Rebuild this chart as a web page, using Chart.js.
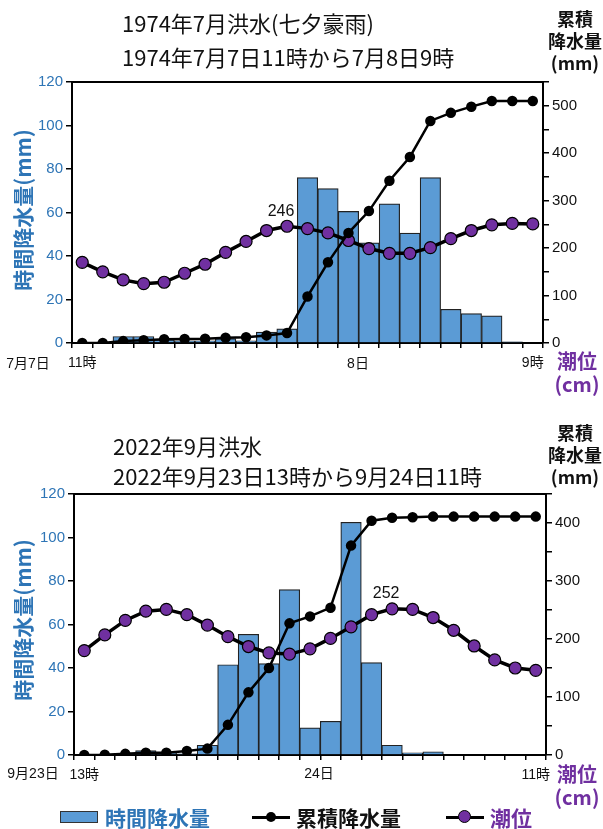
<!DOCTYPE html>
<html>
<head>
<meta charset="utf-8">
<script src="https://cdn.jsdelivr.net/npm/chart.js@4/dist/chart.umd.min.js"></script>
<style>
  body { margin: 0; width: 603px; height: 829px; background: #fff; position: relative; overflow: hidden;
         font-family: "Noto Sans CJK JP", sans-serif; }
  .box { position: absolute; left: 0; width: 603px; }
  .t { position: absolute; white-space: nowrap; line-height: 1; }
  .title { font-size: 22px; color: #111; line-height: 34px; }
  .rtitle { font-size: 18px; font-weight: bold; color: #111; text-align: center; line-height: 22px; width: 70px; }
  .ltitle { font-size: 21px; font-weight: bold; color: #2e75b6; transform: translate(-50%, -50%) rotate(-90deg); }
  .tide { font-size: 20px; font-weight: bold; color: #7030a0; text-align: center; line-height: 23px; width: 60px; }
  .xl { font-size: 14px; color: #111; font-family: "Liberation Sans", "Noto Sans CJK JP", sans-serif; transform: translate(-50%, -50%); }
  .leg { position: absolute; top: 805px; left: 0; width: 603px; height: 24px; font-size: 21px; font-weight: bold; }
  .leg span { position: absolute; top: 0; line-height: 24px; }
</style>
</head>
<body>

<div class="box" style="top:0;height:400px"><canvas id="c1"></canvas></div>
<div class="box" style="top:410px;height:380px"><canvas id="c2"></canvas></div>

<div class="t title" style="left:122px;top:5px">1974年7月洪水(七夕豪雨)<br>1974年7月7日11時から7月8日9時</div>
<div class="t rtitle" style="left:540px;top:7px">累積<br>降水量<br>(mm)</div>
<div class="t ltitle" style="left:22px;top:210px">時間降水量(mm)</div>
<div class="t xl" style="left:28px;top:363px">7月7日</div>
<div class="t xl" style="left:358px;top:363px">8日</div>
<div class="t tide" style="left:547px;top:349px">潮位<br>(cm)</div>

<div class="t title" style="left:113px;top:430px;line-height:30px">2022年9月洪水<br>2022年9月23日13時から9月24日11時</div>
<div class="t rtitle" style="left:540px;top:421px">累積<br>降水量<br>(mm)</div>
<div class="t ltitle" style="left:22px;top:620px">時間降水量(mm)</div>
<div class="t xl" style="left:33px;top:773px">9月23日</div>
<div class="t xl" style="left:319px;top:773px">24日</div>
<div class="t tide" style="left:547px;top:762px">潮位<br>(cm)</div>

<div class="leg">
  <span style="left:60px;top:6px;width:38px;height:12px;background:#5b9bd5;border:1px solid #333;box-sizing:border-box"></span>
  <span style="left:105px;color:#2e75b6">時間降水量</span>
  <span style="left:252px;top:11px;width:38px;height:3px;background:#000"></span>
  <span style="left:266px;top:7px;width:10px;height:10px;border-radius:50%;background:#000"></span>
  <span style="left:296px;color:#111">累積降水量</span>
  <span style="left:446px;top:11px;width:38px;height:3px;background:#000"></span>
  <span style="left:458px;top:5px;width:13px;height:13px;border-radius:50%;background:#7030a0;border:1px solid #000;box-sizing:border-box"></span>
  <span style="left:490px;color:#7030a0">潮位</span>
</div>

<script>
// ---- 1974年7月洪水 (7/7 11時 〜 7/8 9時)
const hours74  = ['11','12','13','14','15','16','17','18','19','20','21','22','23',
                  '0','1','2','3','4','5','6','7','8','9'];
const hourly74 = [0, 0, 3, 3, 1.5, 1, 1, 2, 1, 5, 6.5, 76, 71, 60.5, 46, 64, 50.5, 76, 15.5, 13.5, 12.5, 0.5, 0];
const cumul74  = [0, 0, 4, 6, 8, 8.5, 9, 11, 12, 16, 21, 98, 170, 232, 278, 342, 392, 468, 485, 498, 510, 510, 510];
const tide74   = [170, 150, 133, 125, 128, 147, 166, 191, 214, 237, 246, 241, 232, 216, 199, 189, 189, 201, 220, 237, 249, 252, 251];
const xTicks74 = { 0: '11時', 22: '9時' };

// ---- 2022年9月洪水 (9/23 13時 〜 9/24 11時)
const hours22  = ['13','14','15','16','17','18','19','20','21','22','23',
                  '0','1','2','3','4','5','6','7','8','9','10','11'];
const hourly22 = [0, 0, 0.5, 2, 1, 0.5, 4.5, 41.5, 55.5, 42, 76, 12.5, 15.5, 107, 42.5, 4.5, 1, 1.5, 0, 0, 0, 0, 0];
const cumul22  = [0, 0.5, 2, 4, 4, 7, 11, 52, 108, 150, 227, 239, 254, 361, 404, 409, 410, 411, 411, 411, 411, 411, 411];
const tide22   = [180, 207, 232, 248, 251, 242, 224, 204, 187, 176, 174, 183, 201, 221, 242, 252, 251, 237, 215, 188, 164, 150, 146];
const xTicks22 = { 0: '13時', 22: '11時' };

const TICK_FONT = '"Liberation Sans", "Noto Sans CJK JP", sans-serif';

// frame line on top of the plot + peak tide label
const framePlugin = {
  id: 'frame',
  afterDatasetsDraw(chart, args, opts) {
    const { ctx, chartArea: a } = chart;
    ctx.save();
    ctx.strokeStyle = '#000';
    ctx.lineWidth = 2;
    ctx.beginPath();
    ctx.moveTo(a.left, a.top);
    ctx.lineTo(a.right, a.top);
    ctx.stroke();
    const pt = chart.getDatasetMeta(2).data[opts.peak];
    ctx.fillStyle = '#111';
    ctx.font = '16px ' + TICK_FONT;
    ctx.textAlign = 'center';
    ctx.textBaseline = 'middle';
    ctx.fillText(String(chart.data.datasets[2].data[opts.peak]), pt.x - 6, pt.y - 15);
    ctx.restore();
  },
};

function makeChart(id, labels, hourly, cumul, tide, xTicks, rightMax, peak, area, H) {
  return new Chart(document.getElementById(id), {
    data: {
      labels,
      datasets: [
        { type: 'bar', label: '時間降水量', data: hourly, yAxisID: 'y',
          backgroundColor: '#5b9bd5', borderColor: '#222', borderWidth: 1.2,
          barPercentage: 1, categoryPercentage: 1, order: 3 },
        { type: 'line', label: '累積降水量', data: cumul, yAxisID: 'y2',
          borderColor: '#000', borderWidth: 2.5, pointRadius: 4, pointBackgroundColor: '#000',
          pointBorderColor: '#000', tension: 0, order: 1 },
        { type: 'line', label: '潮位', data: tide, yAxisID: 'y2',
          borderColor: '#000', borderWidth: 3.5, pointRadius: 6, pointBorderWidth: 1.2,
          pointBackgroundColor: '#7030a0', pointBorderColor: '#000', tension: 0, order: 2 },
      ],
    },
    options: {
      responsive: true, maintainAspectRatio: false, animation: false,
      layout: { padding: { top: area.top, left: 0, right: 0, bottom: 0 } },
      plugins: { legend: { display: false }, tooltip: { enabled: false }, frame: { peak } },
      scales: {
        x: {
          offset: true,
          grid: { offset: true, drawOnChartArea: false, drawTicks: true, tickLength: 5, color: '#000', lineWidth: 1.5 },
          border: { display: true, color: '#000', width: 2 },
          ticks: { autoSkip: false, maxRotation: 0, padding: 7, color: '#111',
                   font: { size: 14, family: TICK_FONT }, callback: (v, i) => xTicks[i] || '' },
          afterFit: s => { s.height = H - area.bottom; },
        },
        y: {
          position: 'left', min: 0, max: 120,
          grid: { drawOnChartArea: false, tickLength: 6, color: '#000', lineWidth: 1.5 },
          border: { display: true, color: '#000', width: 2 },
          ticks: { stepSize: 20, color: '#2e75b6', padding: 3, font: { size: 15, family: TICK_FONT } },
          afterFit: s => { s.width = area.left; },
        },
        y2: {
          position: 'right', min: 0, max: rightMax,
          grid: { drawOnChartArea: false, tickLength: 6, color: '#000', lineWidth: 1.5 },
          border: { display: true, color: '#000', width: 2 },
          ticks: { stepSize: 50, includeBounds: false, color: '#111', padding: 3,
                   font: { size: 15, family: TICK_FONT }, callback: v => (v % 100 === 0 ? v : '') },
          afterFit: s => { s.width = 603 - area.right; },
        },
      },
    },
    plugins: [framePlugin],
  });
}

makeChart('c1', hours74, hourly74, cumul74, tide74, xTicks74, 550, 10,
          { left: 72, right: 543, top: 82, bottom: 343 }, 400);
makeChart('c2', hours22, hourly22, cumul22, tide22, xTicks22, 450, 15,
          { left: 74, right: 546, top: 84, bottom: 345 }, 380);
</script>
</body>
</html>
